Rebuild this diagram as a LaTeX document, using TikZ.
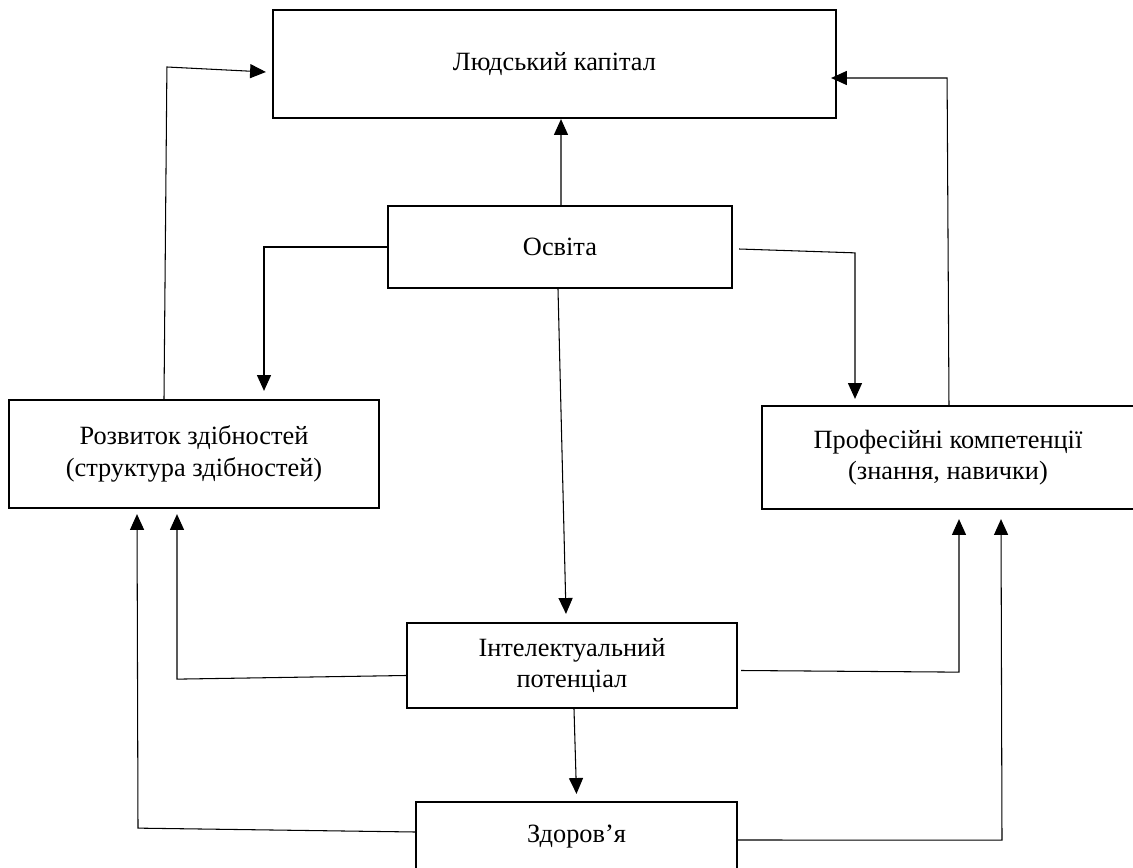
\documentclass[tikz,border=0pt]{standalone}
\usepackage{fontspec}
\setmainfont{Liberation Serif}
\usetikzlibrary{arrows.meta,calc}

\begin{document}
\begin{tikzpicture}[x=0.02cm, y=-0.02cm,
    box/.style={draw, line width=1.3pt, align=center, inner sep=0pt,
      font=\fontsize{15}{18}\selectfont},
    arr/.style={line width=0.6pt, -{Triangle[length=9pt, width=8pt]}},
    ln/.style={line width=0.6pt}]

  \useasboundingbox (0, 0) rectangle (1133, 868);

  % blocks
  \node[box, minimum width=11.26cm, minimum height=2.16cm] (kapital) at (554.5, 64) {Людський капітал};
  \node[box, minimum width=6.88cm, minimum height=1.64cm] (osvita) at (560, 247) {Освіта};
  \node[box, minimum width=7.4cm, minimum height=2.16cm] (rozvytok) at (194, 454) {Розвиток здібностей\\(структура здібностей)};
  \node[box, minimum width=7.44cm, minimum height=2.06cm] (profesijni) at (948, 457.5) {Професійні компетенції\\(знання, навички)};
  \node[box, minimum width=6.6cm, minimum height=1.7cm] (intelekt) at (572, 665.5) {Інтелектуальний\\потенціал};
  \node[box, minimum width=6.42cm, minimum height=1.4cm] (zdorovja) at (576.5, 837) {Здоров’я};

  % from osvita
  \draw[arr] ($(osvita.north)+(1, 0)$) -- ($(kapital.south)+(6.5, 0)$);
  \draw[arr] (osvita.west) -| ($(rozvytok.north)+(70, -8)$);
  \draw[arr] ($(osvita.east)+(6, 2)$) -- ($(profesijni.north)+(-93, -152)$) -- ($(profesijni.north)+(-93, -6)$);
  \draw[arr] ($(osvita.south)+(-2, 0)$) -- ($(intelekt.north)+(-6, -8)$);

  % up to kapital
  \draw[arr] ($(rozvytok.north)+(-30, 0)$) -- ($(kapital.west)+(-105, 3)$) -- ($(kapital.west)+(-6, 8)$);
  \draw[arr] ($(profesijni.north)+(1, 2)$) -- ($(kapital.east)+(110, 14)$) -- ($(kapital.east)+(-6, 14)$);

  % from intelekt
  \draw[arr] ($(intelekt.west)+(0, 10)$) -- ($(rozvytok.south)+(-17, 170)$) -- ($(rozvytok.south)+(-17, 5)$);
  \draw[arr] ($(intelekt.east)+(3, 5)$) -- ($(profesijni.south)+(11, 162)$) -- ($(profesijni.south)+(11, 9)$);
  \draw[arr] ($(intelekt.south)+(2, 0)$) -- ($(zdorovja.north)+(0, -7)$);

  % from zdorovja
  \draw[arr] ($(zdorovja.west)+(0, -5)$) -- ($(rozvytok.south)+(-56, 319)$) -- ($(rozvytok.south)+(-57, 5)$);
  \draw[arr] ($(zdorovja.east)+(0, 3)$) -- ($(profesijni.south)+(54, 330)$) -- ($(profesijni.south)+(53, 9)$);

\end{tikzpicture}
\end{document}
